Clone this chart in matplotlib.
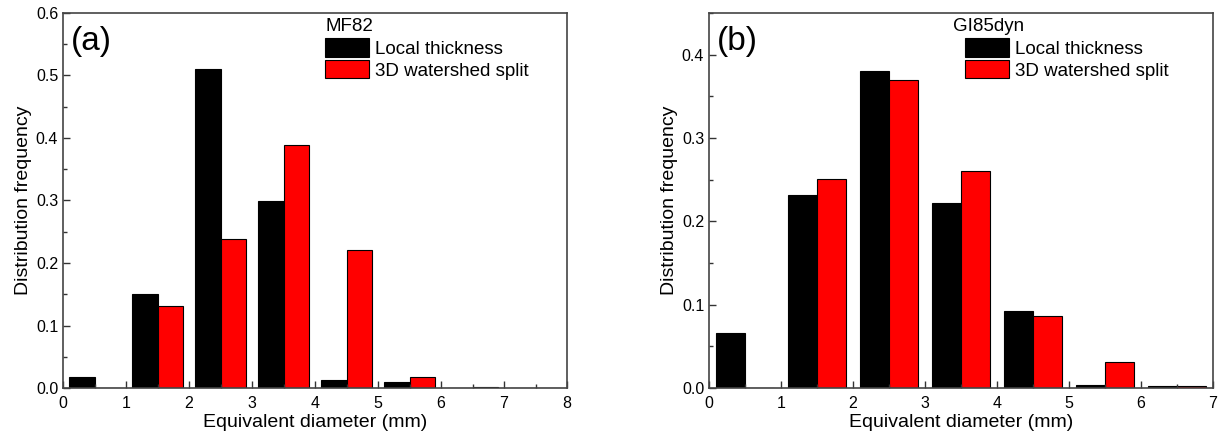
import numpy as np
import matplotlib
matplotlib.use("Agg")
import matplotlib.pyplot as plt
from matplotlib.ticker import MultipleLocator

plt.rcParams['font.family'] = ['Liberation Sans', 'DejaVu Sans']

# bin left edges (mm)
bins_a = [0, 1, 2, 3, 4, 5, 6, 7]
bins_b = [0, 1, 2, 3, 4, 5, 6]

# MF82
local_a = [0.017, 0.151, 0.511, 0.299, 0.013, 0.009, 0.0, 0.0]
water_a = [0.0, 0.132, 0.238, 0.388, 0.220, 0.018, 0.002, 0.0]

# GI85dyn
local_b = [0.066, 0.232, 0.380, 0.222, 0.092, 0.004, 0.002]
water_b = [0.0, 0.251, 0.369, 0.260, 0.087, 0.031, 0.002]

series_names = ['Local thickness', '3D watershed split']
panel_tags = ['(a)', '(b)']
sample_names = ['MF82', 'GI85dyn']


def draw_panel(ax, bins, local, water, tag, sample, xmax, ymax, title_x, leg_x):
    x = np.array(bins, dtype=float)
    ax.bar(x + 0.1, local, width=0.4, align='edge', color='black',
           edgecolor='black', linewidth=0.8, label=series_names[0])
    ax.bar(x + 0.5, water, width=0.4, align='edge', color='#ff0000',
           edgecolor='black', linewidth=0.8, label=series_names[1])
    ax.set_xlim(0, xmax)
    ax.set_ylim(0, ymax)
    ax.xaxis.set_major_locator(MultipleLocator(1))
    ax.xaxis.set_minor_locator(MultipleLocator(0.5))
    ax.yaxis.set_major_locator(MultipleLocator(0.1))
    ax.yaxis.set_minor_locator(MultipleLocator(0.05))
    ax.yaxis.set_major_formatter(plt.FuncFormatter(lambda v, p: f'{v:.1f}'))
    ax.tick_params(which='both', direction='in', labelsize=11.5, color='#333333')
    ax.tick_params(which='major', length=5, width=1)
    ax.tick_params(axis='x', pad=6)
    ax.tick_params(which='minor', length=3, width=1)
    for s in ax.spines.values():
        s.set_linewidth(1.2)
        s.set_color('#444444')
    ax.set_xlabel('Equivalent diameter (mm)', fontsize=14, labelpad=2)
    ax.set_ylabel('Distribution frequency', fontsize=14, labelpad=3)
    ax.text(0.015, 0.925, tag, transform=ax.transAxes, fontsize=24,
            va='center', ha='left')
    ax.text(title_x, 0.963, sample, transform=ax.transAxes, fontsize=13.5,
            va='center', ha='left')
    ax.legend(loc='upper left', bbox_to_anchor=(leg_x, 0.932),
              frameon=False, fontsize=13.5,
              handlelength=2.35, handleheight=1.12, handletextpad=0.3,
              labelspacing=0.12, borderpad=0, borderaxespad=0)


fig = plt.figure(figsize=(12.19, 4.4), dpi=100)
ax1 = fig.add_axes([63 / 1219, 52 / 440, 504 / 1219, 375 / 440])
ax2 = fig.add_axes([709 / 1219, 52 / 440, 504 / 1219, 375 / 440])

draw_panel(ax1, bins_a, local_a, water_a, panel_tags[0], sample_names[0],
           8, 0.6, 0.520, 0.520)
draw_panel(ax2, bins_b, local_b, water_b, panel_tags[1], sample_names[1],
           7, 0.45, 0.484, 0.508)

fig.savefig('out.png', dpi=100)
